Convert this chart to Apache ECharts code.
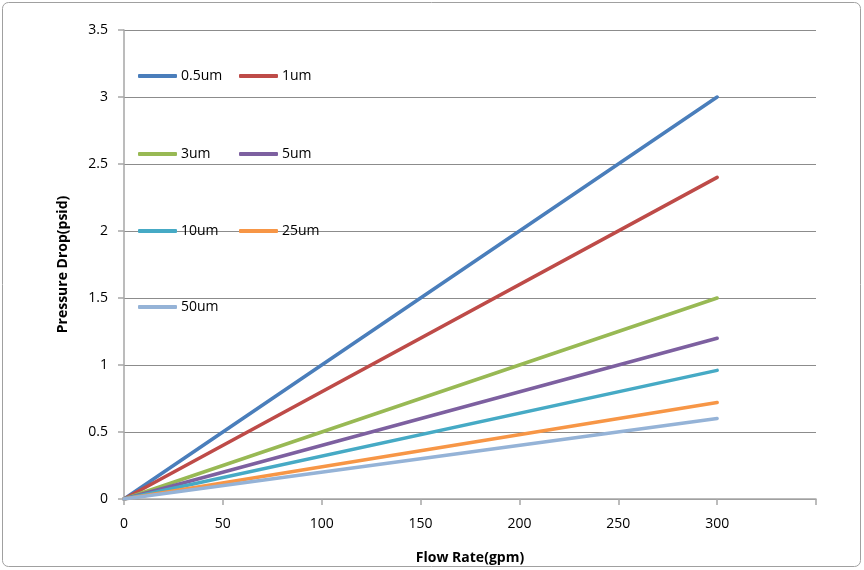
<!DOCTYPE html>
<html><head><meta charset="utf-8">
<script src="https://cdn.jsdelivr.net/npm/echarts@6/dist/echarts.min.js"></script>
<style>html,body{margin:0;padding:0;background:#fff}#c{width:864px;height:570px}</style>
</head><body><div id="c"></div>
<script>
const flowRates = [0, 300];
const seriesNames = ['0.5um', '1um', '3um', '5um', '10um', '25um', '50um'];
const s05 = [0, 3.0];
const s1 = [0, 2.4];
const s3 = [0, 1.5];
const s5 = [0, 1.2];
const s10 = [0, 0.96];
const s25 = [0, 0.72];
const s50 = [0, 0.6];
const seriesValues = [s05, s1, s3, s5, s10, s25, s50];
const colors = ['#4A7EBB', '#BE4B48', '#98B954', '#7D60A0', '#46AAC5', '#F79646', '#95B3D7'];

const FONT = 'Open Sans';
const legendPos = [[138, 69], [239, 69], [138, 147], [239, 147], [138, 224], [239, 224], [138, 300]];

const chart = echarts.init(document.getElementById('c'));
chart.setOption({
  animation: false,
  textStyle: { fontFamily: FONT },
  grid: { left: 124, right: 48, top: 30, bottom: 69, containLabel: false },
  xAxis: {
    type: 'value', min: 0, max: 350, interval: 50,
    name: 'Flow Rate(gpm)', nameLocation: 'middle', nameGap: 52,
    nameTextStyle: { fontFamily: FONT, fontSize: 14, fontWeight: 'bold', color: '#000' },
    axisLine: { show: true, lineStyle: { color: '#A6A6A6', width: 1.5 } },
    axisTick: { show: true, length: 6, lineStyle: { color: '#A6A6A6', width: 1.5 } },
    axisLabel: { fontSize: 14, color: '#000', margin: 18, formatter: v => v === 350 ? '' : String(v) },
    splitLine: { show: false }
  },
  yAxis: {
    type: 'value', min: 0, max: 3.5, interval: 0.5,
    name: 'Pressure Drop(psid)', nameLocation: 'middle', nameGap: 54, nameRotate: 90,
    nameTextStyle: { fontFamily: FONT, fontSize: 14, fontWeight: 'bold', color: '#000' },
    axisLine: { show: true, lineStyle: { color: '#A6A6A6', width: 1.5 } },
    axisTick: { show: true, length: 6, lineStyle: { color: '#A6A6A6', width: 1.5 } },
    axisLabel: { fontSize: 14, color: '#000', margin: 16 },
    splitLine: { show: true, lineStyle: { color: '#8C8C8C', width: 1 } }
  },
  legend: seriesNames.map((n, i) => ({
    data: [n], left: legendPos[i][0], top: legendPos[i][1],
    icon: 'roundRect', itemWidth: 39, itemHeight: 4, itemGap: 4,
    padding: 0,
    textStyle: { fontFamily: FONT, fontSize: 14, color: '#000', padding: [0, 0, 0, -1] }
  })),
  graphic: [{
    type: 'rect', shape: { x: 2.5, y: 2.5, width: 858, height: 564, r: 6 },
    style: { fill: 'none', stroke: '#A0A0A0', lineWidth: 1 }, silent: true
  }],
  series: seriesNames.map((n, i) => ({
    name: n, type: 'line', showSymbol: false, symbol: 'none',
    data: flowRates.map((x, j) => [x, seriesValues[i][j]]),
    lineStyle: { color: colors[i], width: 3.5, cap: 'round' },
    itemStyle: { color: colors[i] }
  }))
});
</script></body></html>
